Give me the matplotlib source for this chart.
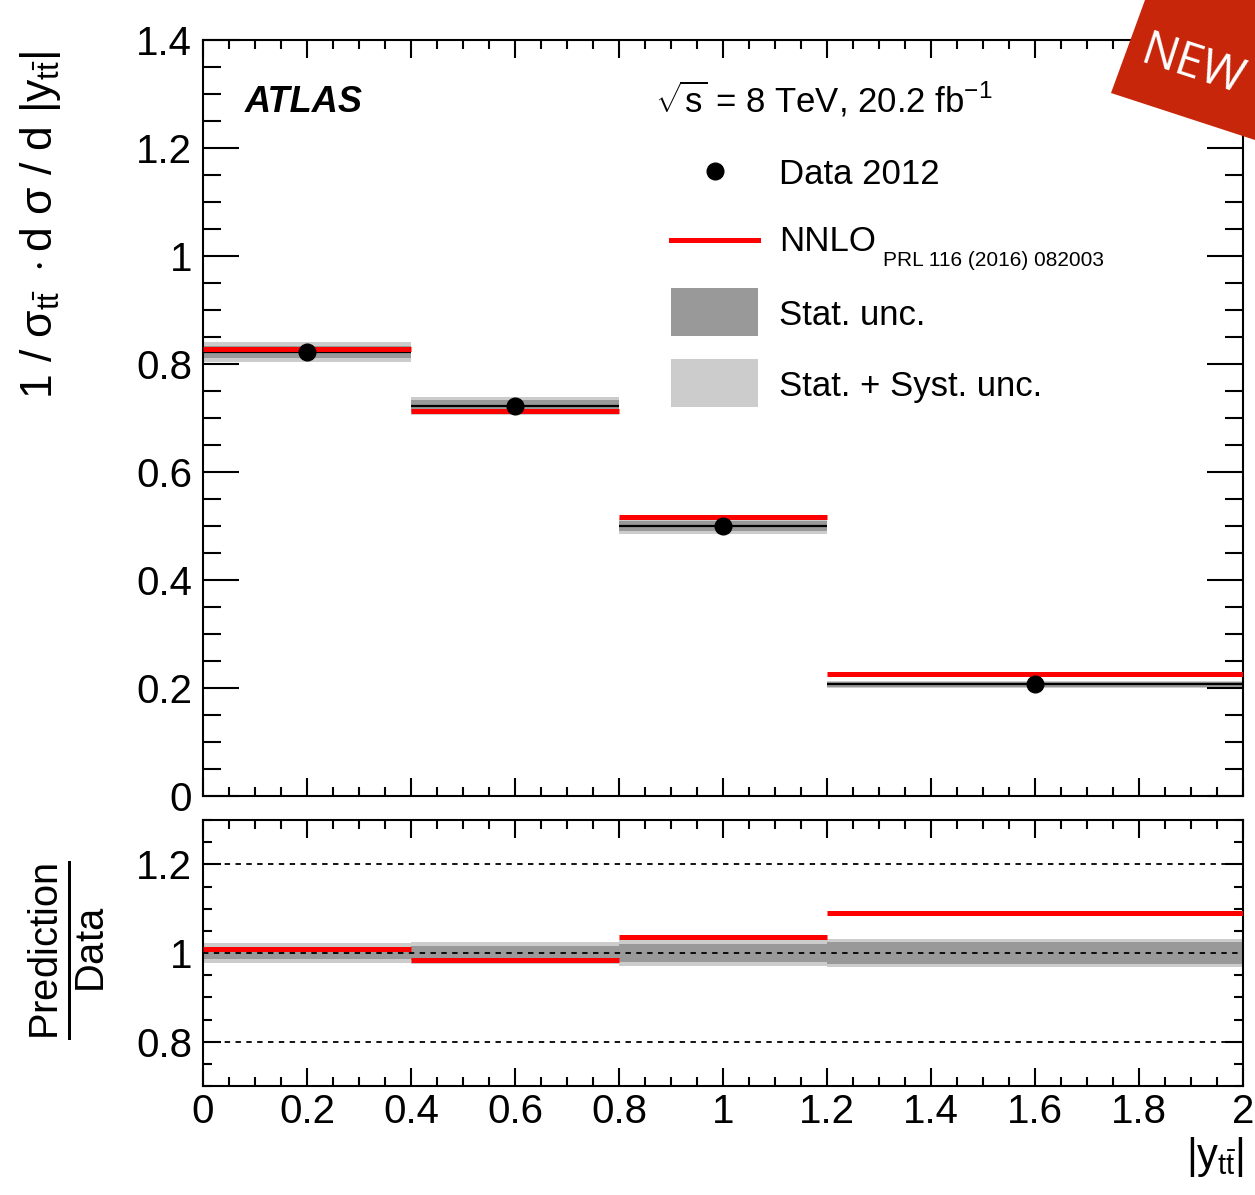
import matplotlib
matplotlib.use("Agg")
import matplotlib.pyplot as plt
from matplotlib.patches import Polygon, Rectangle
from matplotlib.ticker import MultipleLocator

plt.rcParams['font.family'] = ['Liberation Sans', 'DejaVu Sans']
plt.rcParams['mathtext.fontset'] = 'custom'
plt.rcParams['mathtext.rm'] = 'Liberation Sans'
plt.rcParams['mathtext.it'] = 'Liberation Sans'
plt.rcParams['mathtext.bf'] = 'Liberation Sans:bold'

# data
edges = [0.0, 0.4, 0.8, 1.2, 2.0]
centers = [0.2, 0.6, 1.0, 1.6]
data = [0.822, 0.722, 0.500, 0.207]
nnlo = [0.828, 0.713, 0.517, 0.226]
stat_rel = [0.013, 0.016, 0.020, 0.024]
tot_rel = [0.023, 0.024, 0.030, 0.031]
ratio_nnlo = [1.009, 0.984, 1.036, 1.090]

DARK = '#999999'
LIGHT = '#cccccc'

fig = plt.figure(figsize=(12.55, 11.95), dpi=100)
ax = fig.add_axes([0.1618, 0.3339, 0.8287, 0.6326])
rx = fig.add_axes([0.1618, 0.0912, 0.8287, 0.2226])

lefts = edges[:-1]
widths = [edges[i + 1] - edges[i] for i in range(len(lefts))]

# main panel
for i in range(len(data)):
    et = data[i] * tot_rel[i]
    es = data[i] * stat_rel[i]
    ax.bar(lefts[i], 2 * et, bottom=data[i] - et, width=widths[i], align='edge',
           color=LIGHT, linewidth=0, zorder=1)
    ax.bar(lefts[i], 2 * es, bottom=data[i] - es, width=widths[i], align='edge',
           color=DARK, linewidth=0, zorder=2)
ax.hlines(data, lefts, edges[1:], color='black', lw=1.6, zorder=3)
ax.hlines(nnlo, lefts, edges[1:], color='#ff0000', lw=3.6, zorder=4)
ax.plot(centers, data, 'o', color='black', ms=12, zorder=5)

ax.set_xlim(0, 2)
ax.set_ylim(0, 1.4)
ax.xaxis.set_major_locator(MultipleLocator(0.2))
ax.xaxis.set_minor_locator(MultipleLocator(0.05))
ax.yaxis.set_major_locator(MultipleLocator(0.2))
ax.yaxis.set_minor_locator(MultipleLocator(0.05))
ax.set_yticks([0, 0.2, 0.4, 0.6, 0.8, 1.0, 1.2, 1.4])
ax.set_yticklabels(['0', '0.2', '0.4', '0.6', '0.8', '1', '1.2', '1.4'])
ax.tick_params(axis='both', which='both', direction='in', top=True, right=True,
               labelbottom=False, width=1.5, labelsize=29, pad=8)
ax.tick_params(axis='y', which='major', length=26)
ax.tick_params(axis='y', which='minor', length=13)
ax.tick_params(axis='x', which='major', length=13)
ax.tick_params(axis='x', which='minor', length=6.5)
for s in ax.spines.values():
    s.set_linewidth(1.5)

ax.set_ylabel(r'$1\ /\ \sigma_{t\bar{t}}\ \cdot\mathrm{d}\ \sigma\ /\ \mathrm{d}\ |y_{t\bar{t}}|$',
              fontsize=32)
ax.yaxis.set_label_coords(-0.135, 0.755)

ax.text(0.04, 0.918, 'ATLAS', transform=ax.transAxes, fontsize=26,
        fontweight='bold', style='italic', va='center')
ax.text(0.435, 0.922, r'$\sqrt{s}$ = 8 TeV, 20.2 fb$^{\mathregular{-1}}$',
        transform=ax.transAxes, fontsize=25, va='center')

# legend, drawn by hand
lx0, lx1 = 0.450, 0.534
ax.plot([(lx0 + lx1) / 2], [0.827], 'o', color='black', ms=12,
        transform=ax.transAxes, clip_on=False)
ax.plot([lx0, lx1], [0.735, 0.735], color='#ff0000', lw=3.6,
        transform=ax.transAxes)
ax.add_patch(Rectangle((lx0, 0.608), lx1 - lx0, 0.064, transform=ax.transAxes,
                       color=DARK, lw=0))
ax.add_patch(Rectangle((lx0, 0.514), lx1 - lx0, 0.064, transform=ax.transAxes,
                       color=LIGHT, lw=0))
tx = 0.554
ax.text(tx, 0.822, 'Data 2012', transform=ax.transAxes, fontsize=25, va='center')
ax.text(tx, 0.733, 'NNLO', transform=ax.transAxes, fontsize=25, va='center')
ax.text(0.654, 0.708, 'PRL 116 (2016) 082003', transform=ax.transAxes,
        fontsize=15, va='center')
ax.text(tx, 0.636, 'Stat. unc.', transform=ax.transAxes, fontsize=25, va='center')
ax.text(tx, 0.542, 'Stat. + Syst. unc.', transform=ax.transAxes, fontsize=25,
        va='center')

# ratio panel
for i in range(len(data)):
    rx.bar(lefts[i], 2 * tot_rel[i], bottom=1 - tot_rel[i], width=widths[i],
           align='edge', color=LIGHT, linewidth=0, zorder=1)
    rx.bar(lefts[i], 2 * stat_rel[i], bottom=1 - stat_rel[i], width=widths[i],
           align='edge', color=DARK, linewidth=0, zorder=2)
for yv in [0.8, 1.0, 1.2]:
    rx.axhline(yv, color='black', lw=1.3, ls=(0, (3, 3)), zorder=3)
rx.hlines(ratio_nnlo, lefts, edges[1:], color='#ff0000', lw=3.6, zorder=4)

rx.set_xlim(0, 2)
rx.set_ylim(0.7, 1.3)
rx.xaxis.set_major_locator(MultipleLocator(0.2))
rx.xaxis.set_minor_locator(MultipleLocator(0.05))
rx.set_yticks([0.8, 1.0, 1.2])
rx.set_yticklabels(['0.8', '1', '1.2'])
rx.yaxis.set_minor_locator(MultipleLocator(0.05))
rx.set_xticks([0, 0.2, 0.4, 0.6, 0.8, 1.0, 1.2, 1.4, 1.6, 1.8, 2.0])
rx.set_xticklabels(['0', '0.2', '0.4', '0.6', '0.8', '1', '1.2', '1.4', '1.6',
                    '1.8', '2'])
rx.tick_params(axis='both', which='both', direction='in', top=True, right=True,
               width=1.5, labelsize=29)
rx.tick_params(axis='y', which='major', length=13, pad=8)
rx.tick_params(axis='y', which='minor', length=6.5)
rx.tick_params(axis='x', which='major', length=13, pad=5)
rx.tick_params(axis='x', which='minor', length=6.5)
for s in rx.spines.values():
    s.set_linewidth(1.5)

fig.text(0.053, 0.205, r'$\frac{\mathrm{Prediction}}{\mathrm{Data}}$', fontsize=41,
         rotation=90, ha='center', va='center')
fig.text(0.968, 0.032, r'$|y_{t\bar{t}}|$', fontsize=30, ha='center', va='center')

# "NEW" banner
fig.patches.append(Polygon([(1111 / 1255, 1 - 93 / 1195), (1145 / 1255, 1 - 0 / 1195),
                            (1255 / 1255, 1 - 0 / 1195), (1255 / 1255, 1 - 140 / 1195)],
                           closed=True, transform=fig.transFigure,
                           facecolor='#c8260a', edgecolor='none', zorder=10))
fig.text(1192 / 1255, 1 - 66 / 1195, 'NEW', color='white', fontsize=34,
         rotation=-18, ha='center', va='center', zorder=11,
         family=['Open Sans', 'DejaVu Sans'])

fig.savefig('out.png', dpi=100)
